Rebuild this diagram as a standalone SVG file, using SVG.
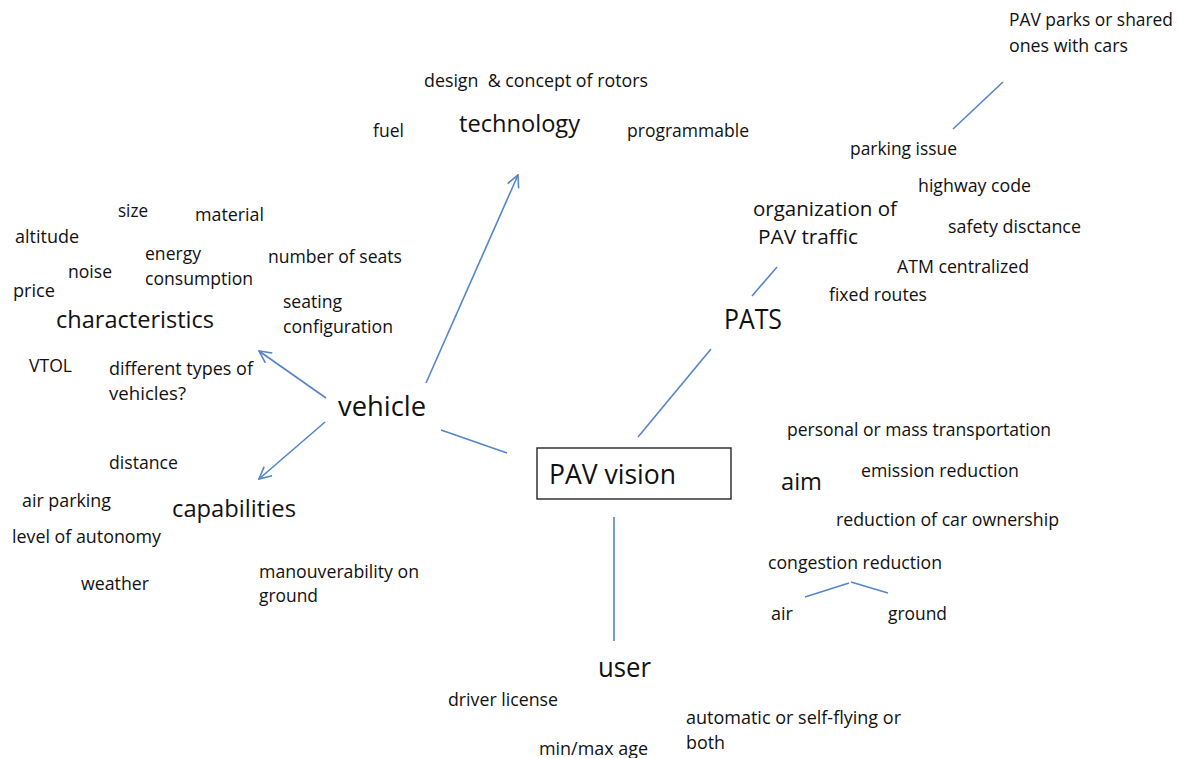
<svg xmlns="http://www.w3.org/2000/svg" width="1179" height="758" viewBox="0 0 1179 758">
  <style>
    text { font-family: "Open Sans", "Liberation Sans", sans-serif; fill: #111; }
    .s { font-size: 17.5px; }
    .m { font-size: 19.5px; }
    .l { font-size: 23.5px; }
    .xl { font-size: 27px; }
    .pre { white-space: pre; }
    .link { stroke: #5585c8; stroke-width: 1.6; fill: none; }
    .box { fill: #fff; stroke: #262626; stroke-width: 1.4; }
  </style>
  <defs>
    <marker id="open" viewBox="0 0 14 14" refX="13" refY="7" markerWidth="14" markerHeight="14" markerUnits="userSpaceOnUse" orient="auto">
      <path d="M1,1 L13,7 L1,13" fill="none" stroke="#5585c8" stroke-width="1.6"/>
    </marker>
  </defs>

  <!-- connectors -->
  <g id="connectors">
    <line class="link" x1="426" y1="383" x2="518" y2="175" marker-end="url(#open)"/>
    <line class="link" x1="326" y1="398" x2="259" y2="351" marker-end="url(#open)"/>
    <line class="link" x1="325" y1="422" x2="259" y2="479" marker-end="url(#open)"/>
    <line class="link" x1="441" y1="430" x2="507" y2="453"/>
    <line class="link" x1="638" y1="437" x2="711" y2="349"/>
    <line class="link" x1="752" y1="296" x2="777" y2="267"/>
    <line class="link" x1="953" y1="129" x2="1003" y2="82"/>
    <line class="link" x1="614" y1="517" x2="614" y2="641"/>
    <line class="link" x1="805" y1="597" x2="849" y2="583"/>
    <line class="link" x1="851" y1="582" x2="888" y2="593"/>
  </g>

  <!-- central node -->
  <g id="pav-vision">
    <rect class="box" x="537" y="448" width="194" height="51"/>
    <text class="xl" x="549" y="484" textLength="127" lengthAdjust="spacingAndGlyphs">PAV vision</text>
  </g>

  <!-- vehicle branch -->
  <g id="vehicle">
    <text class="xl" x="338" y="416" textLength="88" lengthAdjust="spacingAndGlyphs">vehicle</text>
  </g>

  <g id="technology">
    <text class="l" x="459" y="132" textLength="121" lengthAdjust="spacingAndGlyphs">technology</text>
    <text class="s pre" x="424" y="87" textLength="224" lengthAdjust="spacingAndGlyphs">design  &amp; concept of rotors</text>
    <text class="s" x="373" y="137" textLength="31" lengthAdjust="spacingAndGlyphs">fuel</text>
    <text class="s" x="627" y="137" textLength="122" lengthAdjust="spacingAndGlyphs">programmable</text>
  </g>

  <g id="characteristics">
    <text class="l" x="56" y="328" textLength="158" lengthAdjust="spacingAndGlyphs">characteristics</text>
    <text class="s" x="118" y="217" textLength="30" lengthAdjust="spacingAndGlyphs">size</text>
    <text class="s" x="195" y="221" textLength="69" lengthAdjust="spacingAndGlyphs">material</text>
    <text class="s" x="15" y="243" textLength="64" lengthAdjust="spacingAndGlyphs">altitude</text>
    <text class="s" x="145" y="260" textLength="56" lengthAdjust="spacingAndGlyphs">energy</text>
    <text class="s" x="145" y="285" textLength="108" lengthAdjust="spacingAndGlyphs">consumption</text>
    <text class="s" x="268" y="263" textLength="134" lengthAdjust="spacingAndGlyphs">number of seats</text>
    <text class="s" x="68" y="278" textLength="44" lengthAdjust="spacingAndGlyphs">noise</text>
    <text class="s" x="13" y="297" textLength="42" lengthAdjust="spacingAndGlyphs">price</text>
    <text class="s" x="283" y="308" textLength="59" lengthAdjust="spacingAndGlyphs">seating</text>
    <text class="s" x="283" y="333" textLength="110" lengthAdjust="spacingAndGlyphs">configuration</text>
    <text class="s" x="29" y="372" textLength="43" lengthAdjust="spacingAndGlyphs">VTOL</text>
    <text class="s" x="109" y="375" textLength="144" lengthAdjust="spacingAndGlyphs">different types of</text>
    <text class="s" x="109" y="400" textLength="77" lengthAdjust="spacingAndGlyphs">vehicles?</text>
  </g>

  <g id="capabilities">
    <text class="l" x="172" y="517" textLength="124" lengthAdjust="spacingAndGlyphs">capabilities</text>
    <text class="s" x="109" y="469" textLength="69" lengthAdjust="spacingAndGlyphs">distance</text>
    <text class="s" x="22" y="507" textLength="89" lengthAdjust="spacingAndGlyphs">air parking</text>
    <text class="s" x="12" y="543" textLength="149" lengthAdjust="spacingAndGlyphs">level of autonomy</text>
    <text class="s" x="81" y="590" textLength="68" lengthAdjust="spacingAndGlyphs">weather</text>
    <text class="s" x="259" y="578" textLength="160" lengthAdjust="spacingAndGlyphs">manouverability on</text>
    <text class="s" x="259" y="602" textLength="59" lengthAdjust="spacingAndGlyphs">ground</text>
  </g>

  <!-- PATS branch -->
  <g id="pats">
    <text class="xl" x="724" y="329" textLength="58" lengthAdjust="spacingAndGlyphs">PATS</text>
  </g>

  <g id="organization">
    <text class="m" x="753" y="216" textLength="144" lengthAdjust="spacingAndGlyphs">organization of</text>
    <text class="m" x="758" y="244" textLength="100" lengthAdjust="spacingAndGlyphs">PAV traffic</text>
    <text class="s" x="850" y="155" textLength="107" lengthAdjust="spacingAndGlyphs">parking issue</text>
    <text class="s" x="918" y="192" textLength="113" lengthAdjust="spacingAndGlyphs">highway code</text>
    <text class="s" x="948" y="233" textLength="133" lengthAdjust="spacingAndGlyphs">safety disctance</text>
    <text class="s" x="897" y="273" textLength="132" lengthAdjust="spacingAndGlyphs">ATM centralized</text>
    <text class="s" x="829" y="301" textLength="98" lengthAdjust="spacingAndGlyphs">fixed routes</text>
  </g>

  <g id="parking">
    <text class="s" x="1009" y="26" textLength="164" lengthAdjust="spacingAndGlyphs">PAV parks or shared</text>
    <text class="s" x="1009" y="52" textLength="119" lengthAdjust="spacingAndGlyphs">ones with cars</text>
  </g>

  <!-- aim branch -->
  <g id="aim">
    <text class="l" x="781" y="490" textLength="41" lengthAdjust="spacingAndGlyphs">aim</text>
    <text class="s" x="787" y="436" textLength="264" lengthAdjust="spacingAndGlyphs">personal or mass transportation</text>
    <text class="s" x="861" y="477" textLength="158" lengthAdjust="spacingAndGlyphs">emission reduction</text>
    <text class="s" x="836" y="526" textLength="223" lengthAdjust="spacingAndGlyphs">reduction of car ownership</text>
    <text class="s" x="768" y="569" textLength="174" lengthAdjust="spacingAndGlyphs">congestion reduction</text>
    <text class="s" x="771" y="620" textLength="22" lengthAdjust="spacingAndGlyphs">air</text>
    <text class="s" x="888" y="620" textLength="59" lengthAdjust="spacingAndGlyphs">ground</text>
  </g>

  <!-- user branch -->
  <g id="user">
    <text class="xl" x="598" y="677" textLength="53" lengthAdjust="spacingAndGlyphs">user</text>
    <text class="s" x="448" y="706" textLength="110" lengthAdjust="spacingAndGlyphs">driver license</text>
    <text class="s" x="686" y="724" textLength="215" lengthAdjust="spacingAndGlyphs">automatic or self-flying or</text>
    <text class="s" x="686" y="749" textLength="39" lengthAdjust="spacingAndGlyphs">both</text>
    <text class="s" x="539" y="755" textLength="109" lengthAdjust="spacingAndGlyphs">min/max age</text>
  </g>
</svg>
